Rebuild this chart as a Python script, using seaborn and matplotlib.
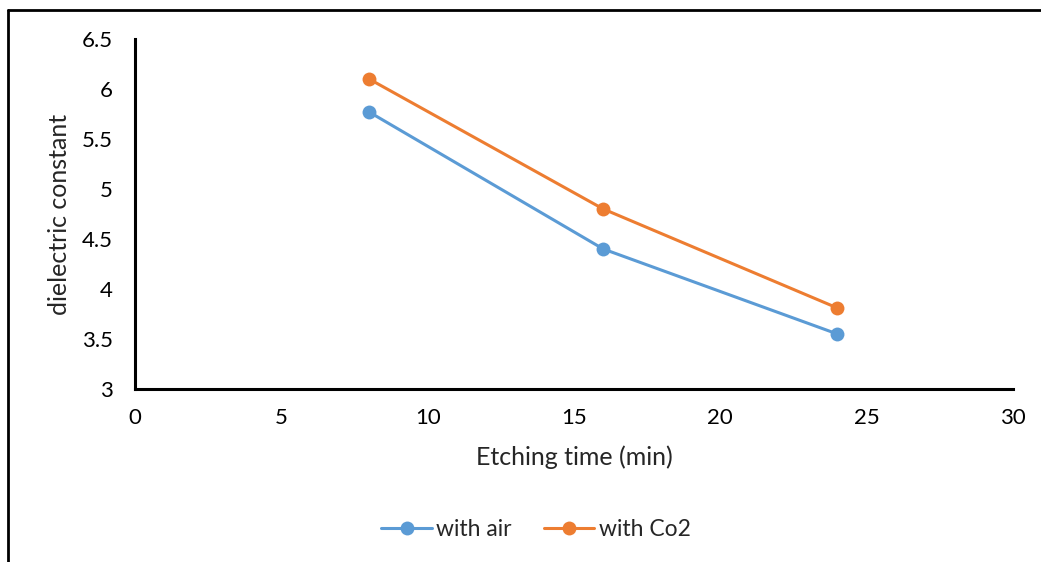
import matplotlib
matplotlib.use("Agg")
import matplotlib.pyplot as plt
import seaborn as sns
import pandas as pd
from matplotlib.lines import Line2D

etch_time = [8, 16, 24]
with_air = [5.77, 4.40, 3.55]
with_co2 = [6.10, 4.80, 3.81]
series_names = ["with air", "with Co2"]
x_ticks = [0, 5, 10, 15, 20, 25, 30]
y_ticks = [3, 3.5, 4, 4.5, 5, 5.5, 6, 6.5]

df = pd.DataFrame({
    "time": etch_time * 2,
    "value": with_air + with_co2,
    "series": [series_names[0]] * 3 + [series_names[1]] * 3,
})

sns.set_style("white")
plt.rcParams["font.family"] = ["Lato", "DejaVu Sans"]

fig = plt.figure(figsize=(10.41, 5.62), dpi=100)
ax = fig.add_axes([135 / 1041, 1 - 389 / 562, (1013 - 135) / 1041, (389 - 39) / 562])

palette = {"with air": "#5B9BD5", "with Co2": "#ED7D31"}
sns.lineplot(data=df, x="time", y="value", hue="series", palette=palette,
             marker="o", markersize=10, markeredgewidth=0, linewidth=2.2,
             ax=ax, legend=False)

ax.set_xlim(0, 30)
ax.set_ylim(3, 6.5)
ax.set_xticks(x_ticks)
ax.set_xticklabels([str(t) for t in x_ticks])
ax.set_yticks(y_ticks)
ax.set_yticklabels([f"{t:g}" for t in y_ticks])
ax.tick_params(axis="both", length=0, labelsize=16, colors="black")
ax.tick_params(axis="x", pad=14)
ax.tick_params(axis="y", pad=16)
ax.set_xlabel("Etching time (min)", fontsize=18, labelpad=12)
ax.set_ylabel("dielectric constant", fontsize=18, labelpad=8)

for s in ["top", "right"]:
    ax.spines[s].set_visible(False)
for s in ["left", "bottom"]:
    ax.spines[s].set_color("black")
    ax.spines[s].set_linewidth(2.2)

handles = [Line2D([], [], color=palette[n], marker="o", markersize=10,
                  markeredgewidth=0, linewidth=2.2) for n in series_names]
fig.legend(handles, series_names, loc="center", bbox_to_anchor=(0.515, 0.058),
           ncol=2, frameon=False, fontsize=16.5, handlelength=2.2, columnspacing=1.4,
           handletextpad=0.2)

# outer frame lines (top and left)
fig.add_artist(Line2D([8 / 1041, 8 / 1041], [0, 1 - 10 / 562], color="black", linewidth=2,
                      transform=fig.transFigure))
fig.add_artist(Line2D([8 / 1041, 1], [1 - 10 / 562, 1 - 10 / 562], color="black", linewidth=2,
                      transform=fig.transFigure))

fig.savefig("out.png", dpi=100)
